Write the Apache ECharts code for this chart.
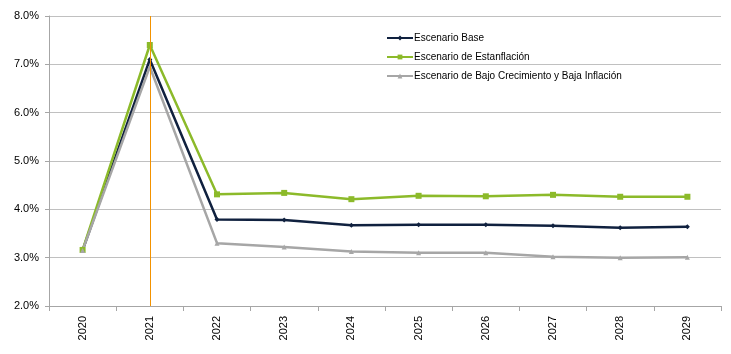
<!DOCTYPE html>
<html>
<head>
<meta charset="utf-8">
<script src="https://cdn.jsdelivr.net/npm/echarts@6/dist/echarts.min.js"></script>
<style>
  html, body { margin: 0; padding: 0; background: #fff; }
  #chart { width: 731px; height: 354px; }
</style>
</head>
<body>
<div id="chart"></div>
<script>
// Years on the category axis
const years = ['2020', '2021', '2022', '2023', '2024', '2025', '2026', '2027', '2028', '2029'];

// Growth by scenario, in percent
const base = [3.15, 7.10, 3.79, 3.78, 3.67, 3.68, 3.68, 3.66, 3.62, 3.64];
const stagflation = [3.16, 7.40, 4.31, 4.34, 4.21, 4.28, 4.27, 4.30, 4.26, 4.26];
const lowGrowth = [3.15, 6.95, 3.30, 3.22, 3.13, 3.10, 3.10, 3.02, 3.00, 3.01];

// Y-axis range and step, in percent
const yMin = 2;
const yMax = 8;
const yStep = 1;

// Year marked with a vertical reference line
const markedYear = '2021';

const font = '"Liberation Sans", Arial, sans-serif';

const chart = echarts.init(document.getElementById('chart'), null, { renderer: 'canvas' });

function scenario(name, data, color, symbol, size) {
  return {
    name: name,
    type: 'line',
    data: data,
    symbol: symbol,
    symbolSize: size,
    showAllSymbol: true,
    lineStyle: { color: color, width: 2.5 },
    itemStyle: { color: color },
    emphasis: { disabled: true },
    z: 3
  };
}

const seriesList = [
  scenario('Escenario Base', base, '#10213f', 'diamond', 5),
  scenario('Escenario de Estanflación', stagflation, '#8cba2a', 'rect', 6),
  scenario('Escenario de Bajo Crecimiento y Baja Inflación', lowGrowth, '#a6a6a6', 'triangle', 5)
];

// Vertical orange reference line on the marked year
seriesList[0].markLine = {
  silent: true,
  symbol: ['none', 'none'],
  label: { show: false },
  lineStyle: { color: '#f39200', width: 1, type: 'solid' },
  data: [{ xAxis: markedYear }],
  z: 10
};

chart.setOption({
  animation: false,
  backgroundColor: '#ffffff',
  grid: { left: 49, right: 10, top: 16, bottom: 48, containLabel: false },
  legend: {
    show: true,
    orient: 'vertical',
    left: 381,
    top: 27,
    itemWidth: 26,
    itemHeight: 6,
    itemGap: 7,
    textStyle: { fontFamily: font, fontSize: 10, lineHeight: 12, color: '#000', padding: [0, 0, 0, -4] },
    data: seriesList.map(s => s.name)
  },
  xAxis: {
    type: 'category',
    data: years,
    boundaryGap: true,
    axisLine: { show: true, lineStyle: { color: '#a6a6a6', width: 1 } },
    axisTick: { show: true, alignWithLabel: false, length: 5, lineStyle: { color: '#a6a6a6' } },
    axisLabel: {
      rotate: 90,
      margin: 10,
      fontFamily: font,
      fontSize: 11,
      color: '#000'
    },
    splitLine: { show: false }
  },
  yAxis: {
    type: 'value',
    min: yMin,
    max: yMax,
    interval: yStep,
    axisLine: { show: true, lineStyle: { color: '#a6a6a6', width: 1 } },
    axisTick: { show: true, length: 4, lineStyle: { color: '#a6a6a6' } },
    axisLabel: {
      fontFamily: font,
      fontSize: 11,
      color: '#000',
      margin: 10,
      formatter: v => v.toFixed(1) + '%'
    },
    splitLine: { show: true, lineStyle: { color: '#c0c0c0', width: 1 } }
  },
  series: seriesList
});
</script>
</body>
</html>
